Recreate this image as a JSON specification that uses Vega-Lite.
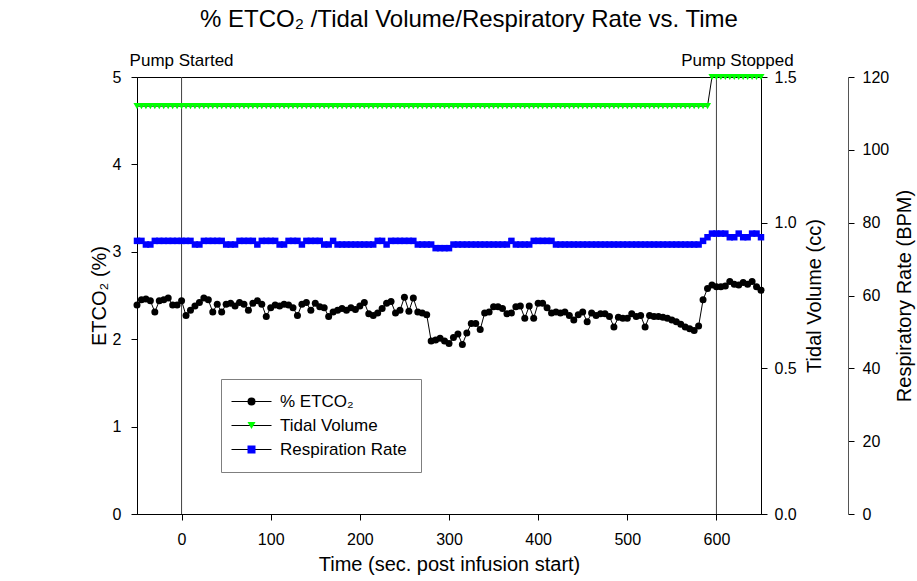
{
  "$schema": "https://vega.github.io/schema/vega-lite/v6.json",
  "width": 624,
  "height": 437,
  "autosize": {"type": "none"},
  "padding": {"left": 137, "top": 77, "right": 156, "bottom": 67},
  "background": "white",
  "config": {
    "font": "Liberation Sans",
    "view": {"stroke": "black", "strokeWidth": 1},
    "axis": {
      "grid": false,
      "labelFont": "Liberation Sans",
      "titleFont": "Liberation Sans",
      "labelFontSize": 16,
      "titleFontSize": 20,
      "titleFontWeight": "normal",
      "labelColor": "black",
      "titleColor": "black",
      "tickColor": "black",
      "domainColor": "black",
      "tickSize": 6
    }
  },
  "title": {
    "text": "% ETCO₂ /Tidal Volume/Respiratory Rate vs. Time",
    "font": "Liberation Sans",
    "fontSize": 24,
    "fontWeight": "normal",
    "color": "black",
    "anchor": "middle",
    "dx": 20,
    "offset": 20
  },
  "datasets": {
    "series": [
      {"time": -50, "etco2": 2.39, "tv": 1.4, "rr": 75},
      {"time": -45, "etco2": 2.45, "tv": 1.4, "rr": 75},
      {"time": -40, "etco2": 2.46, "tv": 1.4, "rr": 74},
      {"time": -35, "etco2": 2.44, "tv": 1.4, "rr": 74},
      {"time": -30, "etco2": 2.31, "tv": 1.4, "rr": 75},
      {"time": -25, "etco2": 2.44, "tv": 1.4, "rr": 75},
      {"time": -20, "etco2": 2.45, "tv": 1.4, "rr": 75},
      {"time": -15, "etco2": 2.47, "tv": 1.4, "rr": 75},
      {"time": -10, "etco2": 2.39, "tv": 1.4, "rr": 75},
      {"time": -5, "etco2": 2.39, "tv": 1.4, "rr": 75},
      {"time": 0, "etco2": 2.44, "tv": 1.4, "rr": 75},
      {"time": 5, "etco2": 2.27, "tv": 1.4, "rr": 75},
      {"time": 10, "etco2": 2.33, "tv": 1.4, "rr": 75},
      {"time": 15, "etco2": 2.38, "tv": 1.4, "rr": 74},
      {"time": 20, "etco2": 2.42, "tv": 1.4, "rr": 74},
      {"time": 25, "etco2": 2.47, "tv": 1.4, "rr": 75},
      {"time": 30, "etco2": 2.45, "tv": 1.4, "rr": 75},
      {"time": 35, "etco2": 2.31, "tv": 1.4, "rr": 75},
      {"time": 40, "etco2": 2.40, "tv": 1.4, "rr": 75},
      {"time": 45, "etco2": 2.31, "tv": 1.4, "rr": 75},
      {"time": 50, "etco2": 2.40, "tv": 1.4, "rr": 74},
      {"time": 55, "etco2": 2.41, "tv": 1.4, "rr": 74},
      {"time": 60, "etco2": 2.38, "tv": 1.4, "rr": 74},
      {"time": 65, "etco2": 2.42, "tv": 1.4, "rr": 75},
      {"time": 70, "etco2": 2.40, "tv": 1.4, "rr": 75},
      {"time": 75, "etco2": 2.33, "tv": 1.4, "rr": 75},
      {"time": 80, "etco2": 2.41, "tv": 1.4, "rr": 75},
      {"time": 85, "etco2": 2.44, "tv": 1.4, "rr": 74},
      {"time": 90, "etco2": 2.40, "tv": 1.4, "rr": 75},
      {"time": 95, "etco2": 2.26, "tv": 1.4, "rr": 75},
      {"time": 100, "etco2": 2.36, "tv": 1.4, "rr": 75},
      {"time": 105, "etco2": 2.39, "tv": 1.4, "rr": 75},
      {"time": 110, "etco2": 2.38, "tv": 1.4, "rr": 74},
      {"time": 115, "etco2": 2.40, "tv": 1.4, "rr": 74},
      {"time": 120, "etco2": 2.39, "tv": 1.4, "rr": 75},
      {"time": 125, "etco2": 2.36, "tv": 1.4, "rr": 75},
      {"time": 130, "etco2": 2.27, "tv": 1.4, "rr": 75},
      {"time": 135, "etco2": 2.40, "tv": 1.4, "rr": 74},
      {"time": 140, "etco2": 2.42, "tv": 1.4, "rr": 75},
      {"time": 145, "etco2": 2.33, "tv": 1.4, "rr": 75},
      {"time": 150, "etco2": 2.41, "tv": 1.4, "rr": 75},
      {"time": 155, "etco2": 2.37, "tv": 1.4, "rr": 75},
      {"time": 160, "etco2": 2.36, "tv": 1.4, "rr": 74},
      {"time": 165, "etco2": 2.26, "tv": 1.4, "rr": 74},
      {"time": 170, "etco2": 2.31, "tv": 1.4, "rr": 75},
      {"time": 175, "etco2": 2.33, "tv": 1.4, "rr": 74},
      {"time": 180, "etco2": 2.35, "tv": 1.4, "rr": 74},
      {"time": 185, "etco2": 2.33, "tv": 1.4, "rr": 74},
      {"time": 190, "etco2": 2.36, "tv": 1.4, "rr": 74},
      {"time": 195, "etco2": 2.34, "tv": 1.4, "rr": 74},
      {"time": 200, "etco2": 2.38, "tv": 1.4, "rr": 74},
      {"time": 205, "etco2": 2.42, "tv": 1.4, "rr": 74},
      {"time": 210, "etco2": 2.29, "tv": 1.4, "rr": 74},
      {"time": 215, "etco2": 2.27, "tv": 1.4, "rr": 74},
      {"time": 220, "etco2": 2.30, "tv": 1.4, "rr": 75},
      {"time": 225, "etco2": 2.35, "tv": 1.4, "rr": 75},
      {"time": 230, "etco2": 2.41, "tv": 1.4, "rr": 74},
      {"time": 235, "etco2": 2.43, "tv": 1.4, "rr": 75},
      {"time": 240, "etco2": 2.30, "tv": 1.4, "rr": 75},
      {"time": 245, "etco2": 2.33, "tv": 1.4, "rr": 75},
      {"time": 250, "etco2": 2.48, "tv": 1.4, "rr": 75},
      {"time": 255, "etco2": 2.32, "tv": 1.4, "rr": 75},
      {"time": 260, "etco2": 2.47, "tv": 1.4, "rr": 75},
      {"time": 265, "etco2": 2.31, "tv": 1.4, "rr": 74},
      {"time": 270, "etco2": 2.30, "tv": 1.4, "rr": 74},
      {"time": 275, "etco2": 2.28, "tv": 1.4, "rr": 74},
      {"time": 280, "etco2": 1.98, "tv": 1.4, "rr": 74},
      {"time": 285, "etco2": 1.99, "tv": 1.4, "rr": 73},
      {"time": 290, "etco2": 2.01, "tv": 1.4, "rr": 73},
      {"time": 295, "etco2": 1.98, "tv": 1.4, "rr": 73},
      {"time": 300, "etco2": 1.95, "tv": 1.4, "rr": 73},
      {"time": 305, "etco2": 2.02, "tv": 1.4, "rr": 74},
      {"time": 310, "etco2": 2.06, "tv": 1.4, "rr": 74},
      {"time": 315, "etco2": 1.94, "tv": 1.4, "rr": 74},
      {"time": 320, "etco2": 2.07, "tv": 1.4, "rr": 74},
      {"time": 325, "etco2": 2.18, "tv": 1.4, "rr": 74},
      {"time": 330, "etco2": 2.18, "tv": 1.4, "rr": 74},
      {"time": 335, "etco2": 2.11, "tv": 1.4, "rr": 74},
      {"time": 340, "etco2": 2.30, "tv": 1.4, "rr": 74},
      {"time": 345, "etco2": 2.31, "tv": 1.4, "rr": 74},
      {"time": 350, "etco2": 2.37, "tv": 1.4, "rr": 74},
      {"time": 355, "etco2": 2.37, "tv": 1.4, "rr": 74},
      {"time": 360, "etco2": 2.35, "tv": 1.4, "rr": 74},
      {"time": 365, "etco2": 2.29, "tv": 1.4, "rr": 74},
      {"time": 370, "etco2": 2.30, "tv": 1.4, "rr": 75},
      {"time": 375, "etco2": 2.37, "tv": 1.4, "rr": 74},
      {"time": 380, "etco2": 2.38, "tv": 1.4, "rr": 74},
      {"time": 385, "etco2": 2.24, "tv": 1.4, "rr": 74},
      {"time": 390, "etco2": 2.38, "tv": 1.4, "rr": 74},
      {"time": 395, "etco2": 2.24, "tv": 1.4, "rr": 75},
      {"time": 400, "etco2": 2.41, "tv": 1.4, "rr": 75},
      {"time": 405, "etco2": 2.41, "tv": 1.4, "rr": 75},
      {"time": 410, "etco2": 2.36, "tv": 1.4, "rr": 75},
      {"time": 415, "etco2": 2.30, "tv": 1.4, "rr": 75},
      {"time": 420, "etco2": 2.31, "tv": 1.4, "rr": 74},
      {"time": 425, "etco2": 2.30, "tv": 1.4, "rr": 74},
      {"time": 430, "etco2": 2.31, "tv": 1.4, "rr": 74},
      {"time": 435, "etco2": 2.27, "tv": 1.4, "rr": 74},
      {"time": 440, "etco2": 2.22, "tv": 1.4, "rr": 74},
      {"time": 445, "etco2": 2.28, "tv": 1.4, "rr": 74},
      {"time": 450, "etco2": 2.31, "tv": 1.4, "rr": 74},
      {"time": 455, "etco2": 2.20, "tv": 1.4, "rr": 74},
      {"time": 460, "etco2": 2.30, "tv": 1.4, "rr": 74},
      {"time": 465, "etco2": 2.27, "tv": 1.4, "rr": 74},
      {"time": 470, "etco2": 2.29, "tv": 1.4, "rr": 74},
      {"time": 475, "etco2": 2.29, "tv": 1.4, "rr": 74},
      {"time": 480, "etco2": 2.26, "tv": 1.4, "rr": 74},
      {"time": 485, "etco2": 2.14, "tv": 1.4, "rr": 74},
      {"time": 490, "etco2": 2.25, "tv": 1.4, "rr": 74},
      {"time": 495, "etco2": 2.24, "tv": 1.4, "rr": 74},
      {"time": 500, "etco2": 2.24, "tv": 1.4, "rr": 74},
      {"time": 505, "etco2": 2.29, "tv": 1.4, "rr": 74},
      {"time": 510, "etco2": 2.26, "tv": 1.4, "rr": 74},
      {"time": 515, "etco2": 2.27, "tv": 1.4, "rr": 74},
      {"time": 520, "etco2": 2.14, "tv": 1.4, "rr": 74},
      {"time": 525, "etco2": 2.27, "tv": 1.4, "rr": 74},
      {"time": 530, "etco2": 2.26, "tv": 1.4, "rr": 74},
      {"time": 535, "etco2": 2.26, "tv": 1.4, "rr": 74},
      {"time": 540, "etco2": 2.25, "tv": 1.4, "rr": 74},
      {"time": 545, "etco2": 2.24, "tv": 1.4, "rr": 74},
      {"time": 550, "etco2": 2.22, "tv": 1.4, "rr": 74},
      {"time": 555, "etco2": 2.20, "tv": 1.4, "rr": 74},
      {"time": 560, "etco2": 2.17, "tv": 1.4, "rr": 74},
      {"time": 565, "etco2": 2.14, "tv": 1.4, "rr": 74},
      {"time": 570, "etco2": 2.12, "tv": 1.4, "rr": 74},
      {"time": 575, "etco2": 2.10, "tv": 1.4, "rr": 74},
      {"time": 580, "etco2": 2.15, "tv": 1.4, "rr": 74},
      {"time": 585, "etco2": 2.45, "tv": 1.4, "rr": 75},
      {"time": 590, "etco2": 2.58, "tv": 1.4, "rr": 76},
      {"time": 595, "etco2": 2.62, "tv": 1.5, "rr": 77},
      {"time": 600, "etco2": 2.60, "tv": 1.5, "rr": 77},
      {"time": 605, "etco2": 2.60, "tv": 1.5, "rr": 77},
      {"time": 610, "etco2": 2.61, "tv": 1.5, "rr": 77},
      {"time": 615, "etco2": 2.66, "tv": 1.5, "rr": 76},
      {"time": 620, "etco2": 2.63, "tv": 1.5, "rr": 76},
      {"time": 625, "etco2": 2.62, "tv": 1.5, "rr": 77},
      {"time": 630, "etco2": 2.65, "tv": 1.5, "rr": 76},
      {"time": 635, "etco2": 2.63, "tv": 1.5, "rr": 76},
      {"time": 640, "etco2": 2.66, "tv": 1.5, "rr": 77},
      {"time": 645, "etco2": 2.60, "tv": 1.5, "rr": 77},
      {"time": 650, "etco2": 2.56, "tv": 1.5, "rr": 76}
    ],
    "events": [
      {"time": 0, "event": "Pump Started"},
      {"time": 600, "event": "Pump Stopped"}
    ]
  },
  "data": {"name": "series"},
  "layer": [
    {
      "layer": [
        {
          "data": {"name": "events"},
          "mark": {"type": "rule", "color": "#404040", "strokeWidth": 1},
          "encoding": {
            "x": {
              "field": "time",
              "type": "quantitative",
              "scale": {"domain": [-50, 650], "nice": false, "zero": false},
              "axis": {
                "title": "Time (sec. post infusion start)",
                "values": [0, 100, 200, 300, 400, 500, 600],
                "labelPadding": 11,
                "titlePadding": 7
              }
            }
          }
        },
        {
          "mark": {"type": "line", "strokeWidth": 1},
          "encoding": {
            "x": {"field": "time", "type": "quantitative"},
            "y": {
              "field": "etco2",
              "type": "quantitative",
              "scale": {"domain": [0, 5], "nice": false},
              "axis": {
                "title": "ETCO₂ (%)",
                "orient": "left",
                "values": [0, 1, 2, 3, 4, 5],
                "format": "d",
                "labelColor": "black",
                "titleColor": "black",
                "labelPadding": 10,
                "titlePadding": 3
              }
            },
            "stroke": {
              "datum": "% ETCO₂",
              "type": "nominal",
              "scale": {"domain": ["% ETCO₂", "Tidal Volume", "Respiration Rate"], "range": ["black", "black", "black"]},
              "legend": {
                "orient": "none",
                "legendX": 84,
                "legendY": 302,
                "title": null,
                "symbolType": "M-3,0H7",
                "symbolSize": 64,
                "symbolStrokeWidth": 1,
                "labelFont": "Liberation Sans",
                "labelFontSize": 17,
                "labelColor": "black",
                "labelOffset": 28,
                "padding": 14,
                "rowPadding": 6,
                "strokeColor": "#7f7f7f",
                "zindex": 1
              }
            }
          }
        },
        {
          "mark": {"type": "point", "filled": true, "size": 49, "opacity": 1},
          "encoding": {
            "x": {"field": "time", "type": "quantitative"},
            "y": {"field": "etco2", "type": "quantitative", "title": "ETCO₂ (%)"},
            "fill": {
              "datum": "e",
              "type": "nominal",
              "scale": {"domain": ["e", "t", "r"], "range": ["#000000", "#00ff00", "#0000ff"]},
              "legend": {
                "orient": "none",
                "legendX": 92,
                "legendY": 302,
                "title": null,
                "symbolSize": 64,
                "symbolStrokeWidth": 0,
                "labelFontSize": 17,
                "labelOpacity": 0,
                "labelOffset": 8,
                "padding": 14,
                "rowPadding": 6,
                "zindex": 2
              }
            },
            "shape": {
              "datum": "e",
              "type": "nominal",
              "scale": {"domain": ["e", "t", "r"], "range": ["circle", "triangle-down", "square"]}
            }
          }
        },
        {
          "data": {"name": "events"},
          "transform": [{"filter": "datum.event === 'Pump Started'"}],
          "mark": {"type": "text", "fontSize": 17, "color": "black", "align": "center", "baseline": "alphabetic", "dy": -11, "clip": false},
          "encoding": {
            "x": {"field": "time", "type": "quantitative"},
            "y": {"datum": 5, "type": "quantitative", "title": "ETCO₂ (%)"},
            "text": {"field": "event"}
          }
        },
        {
          "data": {"name": "events"},
          "transform": [{"filter": "datum.event === 'Pump Stopped'"}],
          "mark": {"type": "text", "fontSize": 17, "color": "black", "align": "center", "baseline": "alphabetic", "dy": -11, "dx": 21, "clip": false},
          "encoding": {
            "x": {"field": "time", "type": "quantitative"},
            "y": {"datum": 5, "type": "quantitative", "title": "ETCO₂ (%)"},
            "text": {"field": "event"}
          }
        }
      ]
    },
    {
      "layer": [
        {
          "mark": {"type": "line", "strokeWidth": 1},
          "encoding": {
            "x": {"field": "time", "type": "quantitative"},
            "y": {
              "field": "tv",
              "type": "quantitative",
              "scale": {"domain": [0, 1.5], "nice": false},
              "axis": {
                "title": "Tidal Volume (cc)",
                "orient": "right",
                "values": [0, 0.5, 1, 1.5],
                "format": ".1f",
                "labelPadding": 7,
                "titlePadding": 8,
                "titleAngle": 270,
                "titleBaseline": "top"
              }
            },
            "stroke": {"datum": "Tidal Volume", "type": "nominal"}
          }
        },
        {
          "mark": {"type": "point", "filled": true, "size": 50, "opacity": 1},
          "encoding": {
            "x": {"field": "time", "type": "quantitative"},
            "y": {"field": "tv", "type": "quantitative", "title": "Tidal Volume (cc)"},
            "fill": {"datum": "t", "type": "nominal"},
            "shape": {"datum": "t", "type": "nominal"}
          }
        }
      ]
    },
    {
      "layer": [
        {
          "mark": {"type": "line", "strokeWidth": 1},
          "encoding": {
            "x": {"field": "time", "type": "quantitative"},
            "y": {
              "field": "rr",
              "type": "quantitative",
              "scale": {"domain": [0, 120], "nice": false},
              "axis": {
                "title": "Respiratory Rate (BPM)",
                "orient": "right",
                "offset": 87,
                "values": [0, 20, 40, 60, 80, 100, 120],
                "format": "d",
                "domainColor": "#555555",
                "labelPadding": 8,
                "titlePadding": 6,
                "titleAngle": 270,
                "titleBaseline": "top"
              }
            },
            "stroke": {"datum": "Respiration Rate", "type": "nominal"}
          }
        },
        {
          "mark": {"type": "point", "filled": true, "size": 42, "opacity": 1},
          "encoding": {
            "x": {"field": "time", "type": "quantitative"},
            "y": {"field": "rr", "type": "quantitative", "title": "Respiratory Rate (BPM)"},
            "fill": {"datum": "r", "type": "nominal"},
            "shape": {"datum": "r", "type": "nominal"}
          }
        }
      ]
    }
  ],
  "resolve": {"scale": {"y": "independent"}}
}
